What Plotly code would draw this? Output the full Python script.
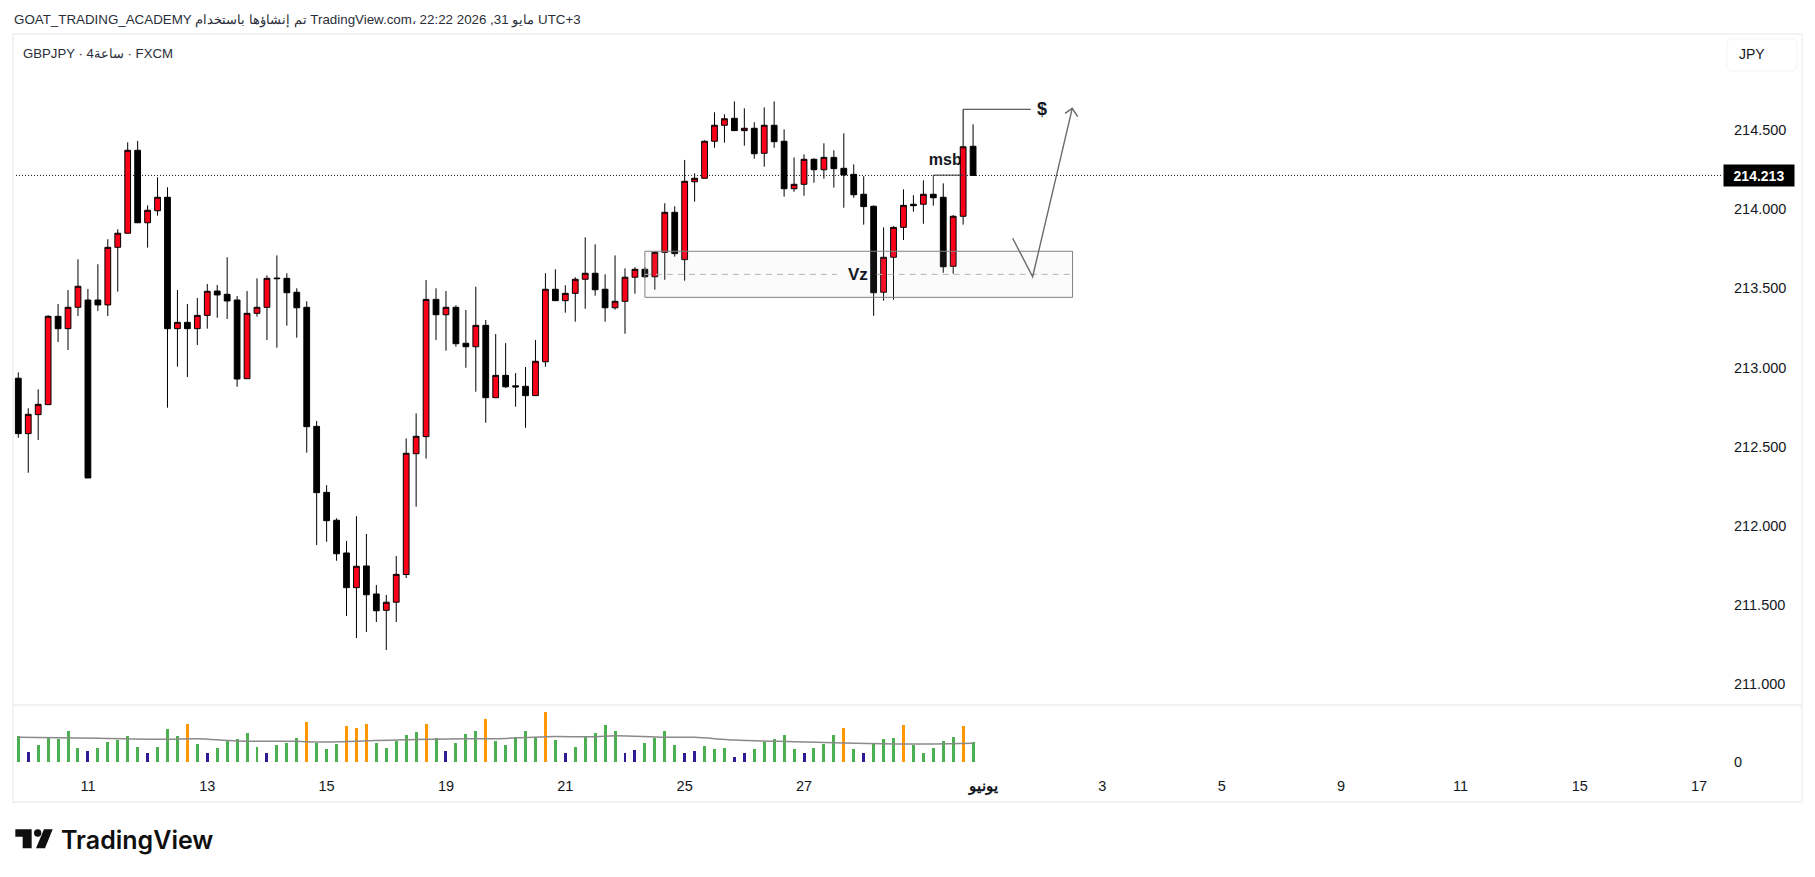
import plotly.graph_objects as go

W, H = 1815, 877

# ---- data ----
opens = [212.932,212.582,212.702,212.765,213.323,213.245,213.380,213.426,213.426,213.395,213.759,213.848,214.372,213.914,213.990,214.075,213.245,213.285,213.245,213.329,
         213.483,213.462,213.426,212.929,213.342,213.380,213.565,213.563,213.475,213.380,212.628,212.211,212.035,211.828,211.609,211.746,211.569,211.466,211.517,211.692,
         212.455,212.563,213.430,213.333,213.380,213.153,213.131,213.266,212.809,212.950,212.884,212.881,212.822,213.036,213.494,213.422,213.468,213.557,213.595,213.494,
         213.377,213.418,213.570,213.620,213.573,213.727,213.980,213.681,214.173,214.195,214.429,214.530,214.574,214.496,214.511,214.353,214.530,214.429,214.129,214.157,
         214.315,214.249,214.327,214.258,214.220,214.094,214.018,213.475,213.696,213.885,214.031,214.031,214.094,214.075,213.639,213.955,214.397]
highs = [212.969,212.742,212.862,213.331,213.401,213.489,213.683,213.496,213.652,213.810,213.873,214.422,214.431,214.024,214.201,214.138,213.489,213.401,213.439,213.527,
         213.521,213.696,213.451,213.483,213.563,213.582,213.708,213.595,213.500,213.418,212.662,212.256,212.047,211.904,212.060,211.948,211.626,211.563,211.809,212.552,
         212.710,213.552,213.500,213.483,213.393,213.363,213.510,213.300,213.211,213.154,212.965,213.003,213.173,213.595,213.620,213.519,213.570,213.822,213.778,213.588,
         213.708,213.626,213.633,213.634,213.734,214.037,214.018,214.311,214.226,214.435,214.612,214.599,214.681,214.637,214.549,214.643,214.681,214.504,214.327,214.346,
         214.321,214.416,214.372,214.479,214.283,214.208,214.024,213.885,213.892,214.125,214.088,214.182,214.098,214.163,213.963,214.631,214.536]
lows = [212.556,212.335,212.542,212.765,213.161,213.110,213.325,212.302,213.357,213.325,213.479,213.848,213.914,213.757,213.959,212.746,213.005,212.940,213.142,213.245,
        213.314,213.306,212.878,212.929,213.321,213.173,213.125,213.264,213.188,212.462,211.878,211.899,211.779,211.430,211.291,211.329,211.392,211.215,211.392,211.670,
        212.120,212.424,213.173,213.106,213.131,212.998,212.847,212.651,212.809,212.870,212.752,212.619,212.822,213.005,213.422,213.346,213.289,213.371,213.453,213.289,
        213.365,213.213,213.466,213.565,213.491,213.554,213.700,213.548,214.047,214.195,214.388,214.420,214.496,214.401,214.319,214.268,214.388,214.079,214.110,214.085,
        214.167,214.192,214.136,214.009,214.072,213.902,213.327,213.422,213.428,213.805,213.984,213.908,214.022,213.598,213.592,213.902,214.213]
closes = [212.582,212.704,212.767,213.323,213.245,213.380,213.513,212.302,213.395,213.759,213.848,214.372,213.914,213.993,214.075,213.245,213.285,213.245,213.329,213.481,
          213.458,213.420,212.927,213.342,213.380,213.563,213.561,213.472,213.377,212.626,212.209,212.032,211.823,211.609,211.744,211.564,211.463,211.517,211.693,212.458,
          212.565,213.430,213.333,213.380,213.150,213.131,213.266,212.809,212.950,212.878,212.877,212.822,213.039,213.494,213.422,213.468,213.557,213.595,213.491,213.377,
          213.418,213.570,213.620,213.573,213.727,213.980,213.719,214.176,214.195,214.429,214.530,214.571,214.496,214.511,214.350,214.530,214.426,214.129,214.157,214.315,
          214.249,214.327,214.256,214.216,214.091,214.016,213.472,213.696,213.885,214.024,214.022,214.094,214.072,213.636,213.955,214.394,214.213]
volumes = [77,29,50,72,68,92,41,32,41,59,65,77,44,26,44,98,77,113,53,26,41,62,68,86,44,26,50,56,71,119,56,38,53,107,101,113,56,41,62,80,89,113,71,32,56,83,92,128,62,
           50,74,92,72,149,65,26,44,77,86,110,92,26,35,56,72,92,50,26,32,47,38,41,14,26,38,59,68,80,38,26,41,53,80,101,38,26,55,68,71,110,50,26,41,62,74,107,59]
orange_bars = [17,29,33,34,35,41,47,53,83,89,95]
blue_bars = [1,7,13,19,25,43,55,61,62,67,68,72,73,79,85]
ma_index = [0,8,15,18,22,28,30,38,45,48,53,58,60,65,68,72,78,82,87,92,96]
ma_values = [73,70,67,69,62,61,59,65,69,69,75,75,78,73,73,65,60,57,54,53,55]
tick_index = [7,19,31,43,55,67,79,97,109,121,133,145,157,169]
tick_labels = ["11","13","15","19","21","25","27","<b>يونيو</b>","3","5","9","11","15","17"]
price_ticks = [211.0,211.5,212.0,212.5,213.0,213.5,214.0,214.5]
last_price = 214.213

FONT = "Liberation Sans, Arial, sans-serif"
INK = "#131722"
bars = list(range(len(opens)))
vol_colors = ["#ff9800" if i in orange_bars else "#311b92" if i in blue_bars else "#4caf50" for i in bars]

def ax(x): return x / W
def ay(y): return 1 - y / H

fig = go.Figure()

# text below the candles (base subplot)
fig.add_trace(go.Scatter(x=[93.2], y=[214.304], mode="text", text=["msb"], textposition="middle center",
                         textfont=dict(family=FONT, size=16, color=INK, weight=600), xaxis="x", yaxis="y",
                         hoverinfo="skip", showlegend=False))

fig.add_trace(go.Candlestick(
    x=bars, open=opens, high=highs, low=lows, close=closes, xaxis="x", yaxis="y3",
    increasing=dict(fillcolor="#fa0019", line=dict(color="#000000", width=1)),
    decreasing=dict(fillcolor="#000000", line=dict(color="#000000", width=1)),
    whiskerwidth=0, showlegend=False))

fig.add_trace(go.Bar(x=bars, y=volumes, marker=dict(color=vol_colors, line=dict(width=0)),
                     width=0.3, xaxis="x2", yaxis="y2", showlegend=False))
fig.add_trace(go.Scatter(x=ma_index, y=ma_values, mode="lines", line=dict(color="#8a8a8a", width=1.5, shape="spline"),
                         xaxis="x2", yaxis="y2", showlegend=False, hoverinfo="skip"))

x_rng = [-0.533, 171.3]
main_rng = [210.8677, 215.1128]

fig.update_layout(
    width=W, height=H, autosize=False,
    margin=dict(l=0, r=0, t=0, b=0),
    paper_bgcolor="#ffffff", plot_bgcolor="#ffffff",
    font=dict(family=FONT, size=14, color=INK),
    showlegend=False, bargap=0, boxgap=0.42, boxgroupgap=0,
    xaxis=dict(domain=[ax(13), ax(1722)], range=x_rng, showgrid=False, zeroline=False, showline=False,
               showticklabels=False, ticks="", rangeslider=dict(visible=False), anchor="y"),
    yaxis=dict(domain=[ay(705), ay(33)], range=main_rng, side="right", anchor="x", showgrid=False, zeroline=False,
               showline=False, tickmode="array", tickvals=price_ticks, ticktext=[f"{p:.3f}" for p in price_ticks],
               ticks="", ticklabelstandoff=11, tickfont=dict(family=FONT, size=14.5, color=INK)),
    yaxis3=dict(domain=[ay(705), ay(33)], range=main_rng, overlaying="y", side="right", anchor="x", visible=False),
    xaxis2=dict(domain=[ax(13), ax(1722)], range=x_rng, showgrid=False, zeroline=False, showline=False, anchor="y2",
                tickmode="array", tickvals=tick_index, ticktext=tick_labels, ticks="", ticklabelstandoff=5,
                tickfont=dict(family=FONT, size=14.5, color=INK)),
    yaxis2=dict(domain=[ay(770), ay(705)], range=[-25, 170], side="right", anchor="x2", showgrid=False, zeroline=False,
                showline=False, tickmode="array", tickvals=[0], ticktext=["0"], ticks="", ticklabelstandoff=11,
                tickfont=dict(family=FONT, size=14.5, color=INK)),
)

def paper_line(x0, y0, x1, y1, color, width):
    return dict(type="line", xref="paper", yref="paper", x0=ax(x0), y0=ay(y0), x1=ax(x1), y1=ay(y1),
                line=dict(color=color, width=width), layer="above")

def rounded(x0, y0, x1, y1, r):
    a, b, c, d = ax(x0), ax(x1), ay(y0), ay(y1)
    rx, ry = r / W, r / H
    return (f"M{a+rx},{c} L{b-rx},{c} Q{b},{c} {b},{c-ry} L{b},{d+ry} Q{b},{d} {b-rx},{d} "
            f"L{a+rx},{d} Q{a},{d} {a},{d+ry} L{a},{c-ry} Q{a},{c} {a+rx},{c} Z")

def poly(points):
    return "M" + " L".join(f"{ax(x)},{ay(y)}" for x, y in points) + " Z"

def logo_x(z): return z / 3
def logo_y(z): return 680 + z / 3

T_SHAPE = [(46,448),(95,448),(95,505),(68,505),(68,470),(46,470)]
SLASH = [(132,448),(158,448),(135,505),(108,505)]

DARK = "#6a6a6a"
shapes = [
    dict(type="line", xref="paper", yref="y", x0=ax(13), x1=ax(1722), y0=last_price, y1=last_price,
         line=dict(color="#131722", width=1, dash="1px,2px"), layer="below"),
    dict(type="rect", xref="x", yref="y", x0=63, x1=106, y0=213.443, y1=213.734,
         line=dict(color="#808080", width=1), fillcolor="rgba(200,200,200,0.08)", layer="above"),
    dict(type="line", xref="x", yref="y", x0=63, x1=82.3, y0=213.588, y1=213.588,
         line=dict(color="#b4b4b4", width=1, dash="6px,5px"), layer="above"),
    dict(type="line", xref="x", yref="y", x0=86.3, x1=105.9, y0=213.588, y1=213.588,
         line=dict(color="#b4b4b4", width=1, dash="6px,5px"), layer="above"),
    dict(type="path", xref="x", yref="y", path="M92,214.096 L92,214.215 L95,214.215",
         line=dict(color="#333333", width=1), layer="above"),
    dict(type="path", xref="x", yref="y", path="M95,214.631 L101.8,214.631",
         line=dict(color="#333333", width=1), layer="above"),
    dict(type="path", xref="x", yref="y", path="M99.98,213.816 L101.99,213.573 L105.97,214.637",
         line=dict(color=DARK, width=1.4), layer="above"),
    dict(type="path", xref="x", yref="y", path="M105.25,214.605 L105.97,214.637 L106.52,214.584",
         line=dict(color=DARK, width=1.4), layer="above"),
    paper_line(13, 34, 1802, 34, "#f2f3f5", 2),
    paper_line(13, 802, 1802, 802, "#f2f3f5", 2),
    paper_line(13, 33, 13, 803, "#f2f3f5", 2),
    paper_line(1802, 33, 1802, 803, "#f2f3f5", 2),
    paper_line(13, 705, 1801, 705, "#e0e3eb", 1),
    dict(type="path", xref="paper", yref="paper", path=rounded(1727, 39, 1797, 71, 6),
         line=dict(color="#f0f3fa", width=1), fillcolor="#ffffff", layer="above"),
    dict(type="path", xref="paper", yref="paper",
         path=poly([(logo_x(a), logo_y(b)) for a, b in T_SHAPE]), fillcolor="#0f0f0f", line=dict(width=0), layer="above"),
    dict(type="path", xref="paper", yref="paper",
         path=poly([(logo_x(a), logo_y(b)) for a, b in SLASH]), fillcolor="#0f0f0f", line=dict(width=0), layer="above"),
    dict(type="circle", xref="paper", yref="paper", x0=ax(logo_x(102)), x1=ax(logo_x(124)),
         y0=ay(logo_y(470)), y1=ay(logo_y(448)), fillcolor="#0f0f0f", line=dict(width=0), layer="above"),
]
fig.update_layout(shapes=shapes)

def label(x, y, text, size=14, color=INK, anchor="left", weight=None, family=FONT):
    f = dict(family=family, size=size, color=color)
    if weight:
        f["weight"] = weight
    return dict(xref="paper", yref="paper", x=ax(x), y=ay(y), text=text, showarrow=False, xanchor=anchor,
                yanchor="middle", font=f, borderpad=0)

annotations = [
    label(13, 20, "GOAT_TRADING_ACADEMY تم إنشاؤها باستخدام TradingView.com، 22:22 2026 ,31 مايو UTC+3", 13.35, "#2a2e39"),
    label(22, 53, "GBPJPY · 4ساعة · FXCM", 13.2, "#2a2e39"),
    label(1738, 54, "JPY", 14, INK),
    dict(xref="paper", yref="y", x=ax(1723), y=last_price, text="<b>214.213</b>", showarrow=False, xanchor="left", yanchor="middle",
         width=70, height=21, bgcolor="#000000", font=dict(family=FONT, size=14, color="#ffffff"), align="center", borderpad=0),
    dict(xref="x", yref="y", x=84.4, y=213.590, text="Vz", showarrow=False, font=dict(family=FONT, size=17, color=INK, weight=600)),
    dict(xref="x", yref="y", x=102.9, y=214.633, text="$", showarrow=False, font=dict(family=FONT, size=18, color=INK, weight=600)),
    label(60, 840, "TradingView", 25, "#0f0f0f", weight=600, family="Inter, Liberation Sans, sans-serif"),
]
fig.update_layout(annotations=annotations)

fig.write_html("out.html", config=dict(displayModeBar=False),
               post_script="document.body.style.margin='0';document.documentElement.style.overflow='hidden';")
